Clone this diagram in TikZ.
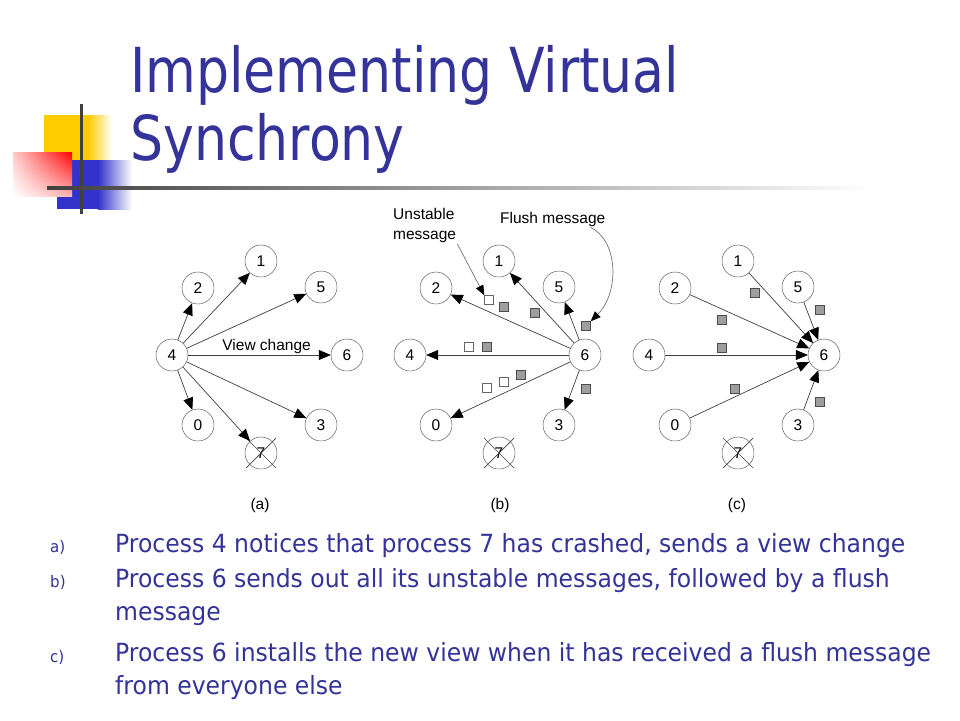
\documentclass[tikz,border=0pt]{standalone}
\usepackage{fontspec}
\setmainfont{Liberation Sans}
\newfontfamily\slidefont[FakeStretch=0.84]{DejaVu Sans}
\newfontfamily\bodyfont[FakeStretch=0.94]{DejaVu Sans}
\usetikzlibrary{arrows.meta,shadings}
\usepackage{xcolor}
\definecolor{slideblue}{rgb}{0.2,0.2,0.6}
\definecolor{boxyellow}{rgb}{1,0.8,0}
\definecolor{boxblue}{rgb}{0.2,0.2,0.8}
\definecolor{linegray}{rgb}{0.25,0.25,0.25}
\definecolor{flushgray}{rgb}{0.62,0.62,0.62}

\begin{document}
\begin{tikzpicture}[x=1pt,y=-1pt,
    proc/.style={circle,draw=linegray,minimum size=32pt,inner sep=0pt,font=\fontsize{15.5}{18}\selectfont},
    msg/.style={draw=linegray,line width=0.7pt,-{Triangle[length=12pt,width=10pt,color=black]}},
    note/.style={draw=black!55,line width=0.7pt,-{Triangle[length=10pt,width=8pt,color=black]}},
    cross/.style={draw=linegray,line width=0.7pt,shorten <=-5pt,shorten >=-5pt},
    unstable/.style={draw=black!60,fill=white,minimum size=9pt,inner sep=0pt},
    flush/.style={draw=black!70,fill=flushgray,minimum size=9pt,inner sep=0pt},
    tag/.style={font=\fontsize{15.5}{20}\selectfont,inner sep=1pt},
    titletext/.style={font=\slidefont\fontsize{62}{68}\selectfont,text=slideblue,inner sep=0pt},
    itemtext/.style={font=\bodyfont\fontsize{25}{32.5}\selectfont,text=slideblue,inner sep=0pt},
    itemmark/.style={font=\bodyfont\fontsize{16}{20}\selectfont,text=slideblue,inner sep=0pt}]
        % region
        \fill[white] (0,0) rectangle (960,720);
        \useasboundingbox (0,0) rectangle (960,720);
        % corner boxes
        \fill[boxyellow] (44,115) rectangle (88,160);
        \shade[left color=boxyellow,right color=white] (88,115) rectangle (112,160);
        \fill[boxblue] (57,160) rectangle (98,209);
        \shade[left color=boxblue,right color=white] (98,160) rectangle (132,209);
        \shade[upper right=red,upper left=red!20,lower right=red!30,lower left=white] (13,152) rectangle (72,196);
        \fill[linegray] (79.5,104) rectangle (82.5,214);
        \shade[left color=linegray,right color=white] (47,186.5) rectangle (875,189.5);
        % title
        \node[titletext,anchor=base west,align=left] (title) at (130,160) {Implementing Virtual\\Synchrony};
        % processes
        \foreach \p/\dx in {a/0,b/238,c/477} {
            \node[proc] (\p4) at (172+\dx,355) {4};
            \node[proc] (\p2) at (198+\dx,288) {2};
            \node[proc] (\p1) at (261+\dx,261) {1};
            \node[proc] (\p5) at (321+\dx,287) {5};
            \node[proc] (\p6) at (347+\dx,355) {6};
            \node[proc] (\p0) at (198+\dx,425) {0};
            \node[proc] (\p3) at (321+\dx,425) {3};
            \node[proc] (\p7) at (261+\dx,453) {7};
            \draw[cross] (\p7.north west) -- (\p7.south east);
            \draw[cross] (\p7.north east) -- (\p7.south west);
        }
        % (a) view change
        \draw[msg] (a4) -- (a2);
        \draw[msg] (a4) -- (a1);
        \draw[msg] (a4) -- (a5);
        \draw[msg] (a4) -- node[tag,above,pos=0.55] (vc) {View change} (a6);
        \draw[msg] (a4) -- (a3);
        \draw[msg] (a4) -- (a0);
        \draw[msg] (a4) -- (a7);
        % (b) unstable and flush messages
        \draw[msg] (b6) -- (b2);
        \draw[msg] (b6) -- (b1);
        \draw[msg] (b6) -- (b5);
        \draw[msg] (b6) -- (b4);
        \draw[msg] (b6) -- (b0);
        \draw[msg] (b6) -- (b3);
        \node[unstable] (bu1) at (489,300) {};
        \node[unstable] (bu2) at (469,347) {};
        \node[unstable] (bu3) at (487,388) {};
        \node[unstable] (bu4) at (504,382) {};
        \node[flush] (bf1) at (504,307) {};
        \node[flush] (bf2) at (535,313) {};
        \node[flush] (bf3) at (586,326) {};
        \node[flush] (bf4) at (487,347) {};
        \node[flush] (bf5) at (521,375) {};
        \node[flush] (bf6) at (586,389) {};
        \node[tag,anchor=north west,align=left] (un) at (392,207) {Unstable\\message};
        \node[tag,anchor=west] (fl) at (499,219) {Flush message};
        \draw[note] (un.south east) -- (bu1.north west);
        \draw[note] ([xshift=-16pt]fl.south east) .. controls (618,240) and (620,292) .. (bf3.north east);
        % (c) flush messages to 6
        \draw[msg] (c2) -- (c6);
        \draw[msg] (c1) -- (c6);
        \draw[msg] (c5) -- (c6);
        \draw[msg] (c4) -- (c6);
        \draw[msg] (c0) -- (c6);
        \draw[msg] (c3) -- (c6);
        \node[flush] (cf1) at (755,293) {};
        \node[flush] (cf2) at (820,310) {};
        \node[flush] (cf3) at (722,320) {};
        \node[flush] (cf4) at (722,348) {};
        \node[flush] (cf5) at (735,389) {};
        \node[flush] (cf6) at (820,402) {};
        % text
        \node[tag] (la) at (260,505) {(a)};
        \node[tag] (lb) at (500,505) {(b)};
        \node[tag] (lc) at (737,505) {(c)};
        \node[itemmark,anchor=base west] (ma) at (50,552) {a)};
        \node[itemmark,anchor=base west] (mb) at (50,587) {b)};
        \node[itemmark,anchor=base west] (mc) at (50,662) {c)};
        \node[itemtext,anchor=base west] (ia) at (115,552) {Process 4 notices that process 7 has crashed, sends a view change};
        \node[itemtext,anchor=base west,align=left] (ib) at (115,620) {Process 6 sends out all its unstable messages, followed by a flush\\message};
        \node[itemtext,anchor=base west,align=left] (ic) at (115,694) {Process 6 installs the new view when it has received a flush message\\from everyone else};
    \end{tikzpicture}
\end{document}
